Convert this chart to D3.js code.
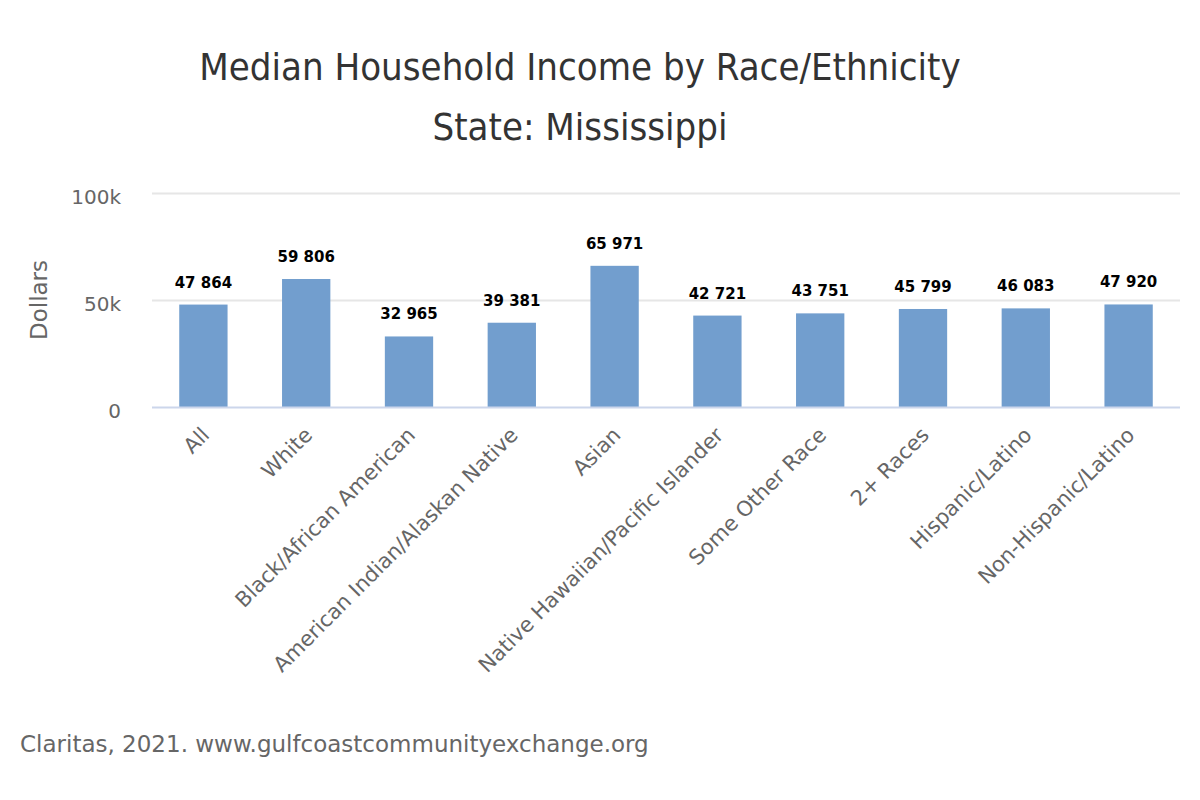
<!DOCTYPE html>
<html lang="en">
<head>
    <meta charset="UTF-8">
    <title>Median Household Income by Race/Ethnicity</title>
    <script src="https://cdn.jsdelivr.net/npm/d3@7.9.0/dist/d3.min.js"></script>
    <style>
        body { margin: 0; background: #fff; }
        svg { font-family: "DejaVu Sans Condensed", "DejaVu Sans", sans-serif; }
        .grid line { stroke: #e6e6e6; stroke-width: 2; }
        .grid path { display: none; }
        .y-axis path, .y-axis line { display: none; }
        .y-axis text { fill: #666; font-size: 20px; font-family: "DejaVu Sans", sans-serif; }
        .x-axis path, .x-axis line { display: none; }
        .x-axis text { fill: #666; font-size: 21px; font-family: "DejaVu Sans", sans-serif; }
    </style>
</head>
<body>
<svg id="chart" width="1200" height="800"></svg>
<script>
// data
const categories = ['All', 'White', 'Black/African American', 'American Indian/Alaskan Native',
    'Asian', 'Native Hawaiian/Pacific Islander', 'Some Other Race', '2+ Races',
    'Hispanic/Latino', 'Non-Hispanic/Latino'];
const incomes = [47864, 59806, 32965, 39381, 65971, 42721, 43751, 45799, 46083, 47920];
const yTicks = [0, 50000, 100000];
const yTickLabels = ['0', '50k', '100k'];

let margin = { top: 193, right: 20, bottom: 393, left: 152 };
let width = 1200 - margin.left - margin.right;
let height = 800 - margin.top - margin.bottom;

let svg = d3.select('#chart');

// titles
svg.append('text')
    .attr('x', 580).attr('y', 80)
    .attr('text-anchor', 'middle')
    .attr('fill', '#333')
    .style('font-size', '38px')
    .text('Median Household Income by Race/Ethnicity');

svg.append('text')
    .attr('x', 580).attr('y', 140)
    .attr('text-anchor', 'middle')
    .attr('fill', '#333')
    .style('font-size', '38px')
    .text('State: Mississippi');

let g = svg.append('g').attr('transform', `translate(${margin.left},${margin.top})`);

let x = d3.scaleBand().domain(categories).range([0, width]).paddingInner(0.53).paddingOuter(0.265);
let y = d3.scaleLinear().domain([0, 100000]).range([height, 0]);

// gridlines
g.append('g').attr('class', 'grid')
    .call(d3.axisLeft(y).tickValues(yTicks.slice(1)).tickSize(-width).tickFormat(''));

// y axis
g.append('g').attr('class', 'y-axis')
    .attr('transform', 'translate(-22,3)')
    .call(d3.axisLeft(y).tickValues(yTicks).tickFormat((d, i) => yTickLabels[i]))
    .selectAll('text').attr('dy', '0.35em');

// y axis title
svg.append('text')
    .attr('transform', `translate(47,${margin.top + height / 2}) rotate(-90)`)
    .attr('text-anchor', 'middle')
    .attr('fill', '#666')
    .style('font-family', '"DejaVu Sans", sans-serif')
    .style('font-size', '23px')
    .text('Dollars');

// bars
g.selectAll('rect.bar')
    .data(incomes)
    .enter()
    .append('rect')
    .attr('class', 'bar')
    .attr('x', (d, i) => x(categories[i]))
    .attr('y', d => y(d))
    .attr('width', x.bandwidth())
    .attr('height', d => height - y(d))
    .attr('fill', '#729ece');

// x axis baseline
g.append('line')
    .attr('x1', 0).attr('x2', width)
    .attr('y1', height + 0.5).attr('y2', height + 0.5)
    .attr('stroke', '#ccd6eb').attr('stroke-width', 2);

// value labels
let fmt = d3.format(',');
g.selectAll('text.value')
    .data(incomes)
    .enter()
    .append('text')
    .attr('class', 'value')
    .attr('x', (d, i) => x(categories[i]) + x.bandwidth() / 2)
    .attr('y', d => y(d) - 17)
    .attr('text-anchor', 'middle')
    .attr('fill', '#000')
    .style('font-family', '"DejaVu Sans", sans-serif')
    .style('font-size', '15px')
    .style('font-weight', 'bold')
    .text(d => fmt(d).replace(',', ' '));

// x axis labels, rotated
g.append('g').attr('class', 'x-axis')
    .attr('transform', `translate(0,${height})`)
    .call(d3.axisBottom(x).tickSize(0))
    .selectAll('text')
    .attr('text-anchor', 'end')
    .attr('transform', 'translate(0,22) rotate(-45)')
    .attr('dy', '0.35em');

// credits
svg.append('text')
    .attr('x', 20).attr('y', 752)
    .attr('fill', '#666')
    .style('font-family', '"DejaVu Sans", sans-serif')
    .style('font-size', '23px')
    .text('Claritas, 2021. www.gulfcoastcommunityexchange.org');
</script>
</body>
</html>
